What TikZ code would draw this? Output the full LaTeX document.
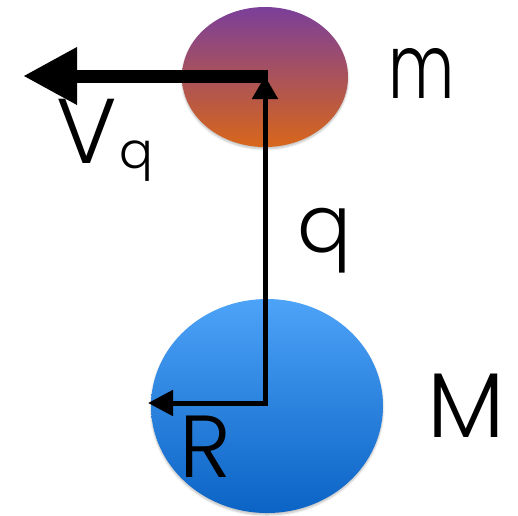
\documentclass[tikz,border=0pt]{standalone}
\usepackage{fontspec}
\usepackage{graphicx}
\setmainfont{Poppins Light}
\usetikzlibrary{arrows.meta,shapes.geometric,shadows.blur}
\definecolor{mtop}{HTML}{7B3F9A}
\definecolor{mbot}{HTML}{D8661A}
\definecolor{Mtop}{HTML}{4DA3F7}
\definecolor{Mbot}{HTML}{0B63C5}
\tikzset{
  mass/.style={ellipse, inner sep=0pt, draw=none, blur shadow={shadow xshift=0pt, shadow yshift=-2pt, shadow opacity=25, shadow blur steps=5, shadow blur radius=2pt}},
  lbl/.style={anchor=base, inner sep=0pt, text=black},
  vec/.style={draw=black, line width=5pt},
}
\begin{document}
\begin{tikzpicture}[x=1pt,y=-1pt]
\useasboundingbox (0,0) rectangle (518,515);
\node[mass, minimum width=166pt, minimum height=140pt, top color=mtop, bottom color=mbot] (m) at (265,77) {};
\node[mass, minimum width=232pt, minimum height=214pt, top color=Mtop, bottom color=Mbot] (M) at (267,406) {};
\coordinate (O) at (265,403);
\coordinate (T) at (265,76);
\coordinate (Vend) at (23,76);
\coordinate (Rend) at (148,403);
% vectors
\draw[vec, line width=13pt, -{Triangle[length=54pt,width=54pt]}] ([xshift=2.5pt]T) -- (Vend);
\draw[vec, line cap=butt, -{Triangle[length=23pt,width=25pt]}] (O) -- (T);
\draw[vec, -{Triangle[length=25pt,width=25pt]}] ([xshift=2.5pt]O) -- (Rend);
% labels
\node[lbl, font=\fontsize{90}{90}\selectfont] (lm) at (422,98) {\scalebox{0.72}[1]{m}};
\node[lbl, font=\fontsize{92}{92}\selectfont] (lM) at (466,437) {M};
\node[lbl, font=\fontsize{88}{88}\selectfont] (lR) at (205,477) {R};
\node[lbl, font=\fontsize{80}{80}\selectfont] (lq) at (324,252) {q};
\node[lbl, anchor=base west, font=\fontsize{92}{92}\selectfont] (lV) at (56,163) {V\kern3pt\raisebox{-5pt}{\fontsize{50}{50}\selectfont q}};
\end{tikzpicture}
\end{document}
